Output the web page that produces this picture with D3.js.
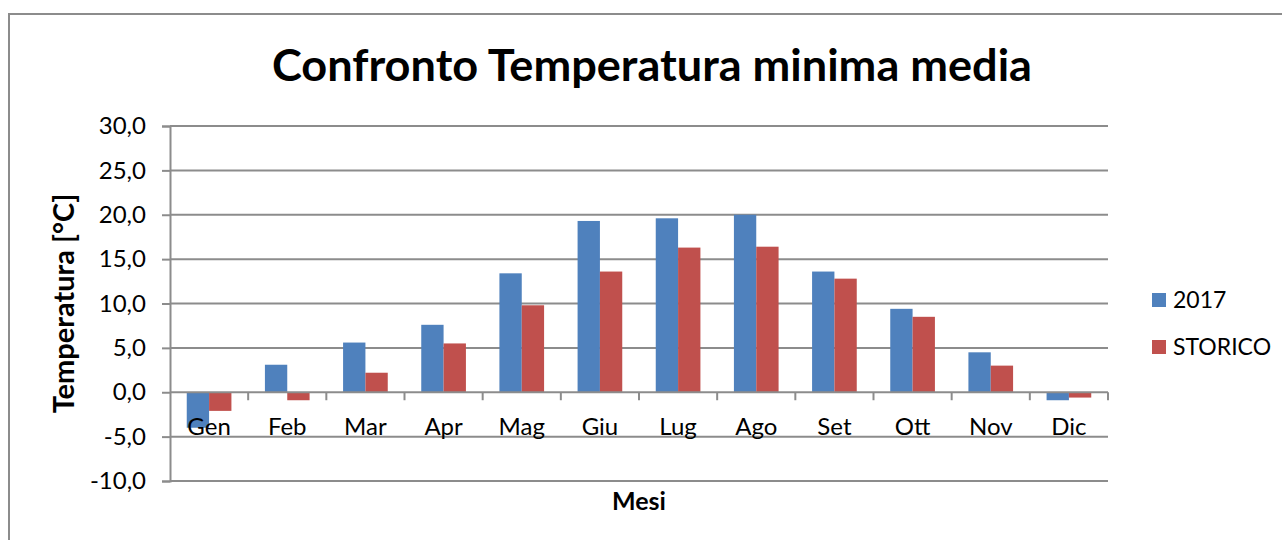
<!DOCTYPE html>
<html>
<head>
<meta charset="utf-8">
<script src="https://cdn.jsdelivr.net/npm/d3@7"></script>
<style>
  html, body { margin: 0; padding: 0; background: #fff; }
  svg { display: block; }
  text { font-family: Lato, "Open Sans", sans-serif; fill: #000; }
</style>
</head>
<body>
<script>
// Monthly mean minimum temperatures (°C)
const months = ["Gen", "Feb", "Mar", "Apr", "Mag", "Giu", "Lug", "Ago", "Set", "Ott", "Nov", "Dic"];
const values2017 = [-4.0, 3.1, 5.6, 7.6, 13.4, 19.3, 19.6, 20.0, 13.6, 9.4, 4.5, -0.9];
const valuesStorico = [-2.1, -0.9, 2.2, 5.5, 9.8, 13.6, 16.3, 16.4, 12.8, 8.5, 3.0, -0.6];
const seriesNames = ["2017", "STORICO"];
const yTicks = [-10, -5, 0, 5, 10, 15, 20, 25, 30];

const W = 1282, H = 540;
const plot = { left: 170, right: 1108, top: 126, bottom: 481 };
const colors = { "2017": "#4F81BD", "STORICO": "#C0504D" };
const gridColor = "#8c8c8c";

const it = d3.formatLocale({ decimal: ",", thousands: ".", grouping: [3], currency: ["", " €"], minus: "-" });
const fmt = it.format(".1f");

const svg = d3.select("body").append("svg").attr("width", W).attr("height", H);

// outer chart frame
svg.append("rect")
  .attr("x", 9).attr("y", 14)
  .attr("width", W + 20).attr("height", H + 20)
  .attr("fill", "#fff").attr("stroke", gridColor).attr("stroke-width", 2);

const y = d3.scaleLinear().domain([-10, 30]).range([plot.bottom, plot.top]);
const x = d3.scaleBand().domain(months).range([plot.left, plot.right])
  .paddingInner(1.5 / 3.5).paddingOuter(0.75 / 3.5);
const xs = d3.scaleBand().domain(seriesNames).range([0, x.bandwidth()]);

// horizontal gridlines
svg.append("g").selectAll("line").data(yTicks.filter(t => t !== 0)).join("line")
  .attr("x1", plot.left).attr("x2", plot.right)
  .attr("y1", d => y(d)).attr("y2", d => y(d))
  .attr("stroke", gridColor).attr("stroke-width", 2);

// bars
const rows = months.map((m, i) => ({ m, vals: [values2017[i], valuesStorico[i]] }));
const groups = svg.append("g").selectAll("g").data(rows).join("g")
  .attr("transform", d => `translate(${x(d.m)},0)`);
groups.selectAll("rect").data(d => d.vals.map((v, j) => ({ s: seriesNames[j], v }))).join("rect")
  .attr("x", d => xs(d.s))
  .attr("width", xs.bandwidth())
  .attr("y", d => y(Math.max(0, d.v)))
  .attr("height", d => Math.abs(y(d.v) - y(0)))
  .attr("fill", d => colors[d.s]);

// y axis
const yAxis = svg.append("g").attr("transform", `translate(${plot.left},0)`)
  .call(d3.axisLeft(y).tickValues(yTicks).tickFormat(fmt).tickSize(8).tickPadding(16));
yAxis.select(".domain").attr("stroke", gridColor).attr("stroke-width", 2);
yAxis.selectAll(".tick line").attr("stroke", gridColor).attr("stroke-width", 2);
yAxis.selectAll(".tick text").attr("font-size", 24).attr("font-family", "Lato").attr("fill", "#000");

// category axis along zero
const boundaries = months.map(m => x(m) - x.step() * x.paddingOuter()).concat([plot.right]);
const xAxis = svg.append("g");
xAxis.append("line")
  .attr("x1", plot.left).attr("x2", plot.right)
  .attr("y1", y(0)).attr("y2", y(0))
  .attr("stroke", gridColor).attr("stroke-width", 2);
xAxis.selectAll("line.tk").data(boundaries.slice(1)).join("line").attr("class", "tk")
  .attr("x1", d => d).attr("x2", d => d)
  .attr("y1", y(0)).attr("y2", y(0) + 8)
  .attr("stroke", gridColor).attr("stroke-width", 2);
xAxis.selectAll("text").data(months).join("text")
  .attr("x", d => x(d) + x.bandwidth() / 2)
  .attr("y", y(0) + 43)
  .attr("text-anchor", "middle")
  .attr("font-size", 24)
  .text(d => d);

// titles
svg.append("text")
  .attr("x", 652).attr("y", 81)
  .attr("text-anchor", "middle").attr("font-size", 43).attr("font-weight", 700)
  .attr("textLength", 760).attr("lengthAdjust", "spacingAndGlyphs")
  .text("Confronto Temperatura minima media");

svg.append("text")
  .attr("transform", `translate(74,${(plot.top + plot.bottom) / 2}) rotate(-90)`)
  .attr("text-anchor", "middle").attr("font-size", 29).attr("font-weight", 700)
  .text("Temperatura [°C]");

svg.append("text")
  .attr("x", (plot.left + plot.right) / 2).attr("y", 510)
  .attr("text-anchor", "middle").attr("font-size", 25).attr("font-weight", 700)
  .text("Mesi");

// legend
const legend = svg.append("g").attr("transform", "translate(1152,293)");
const li = legend.selectAll("g").data(seriesNames).join("g")
  .attr("transform", (d, i) => `translate(0,${i * 47})`);
li.append("rect").attr("width", 14).attr("height", 14).attr("fill", d => colors[d]);
li.append("text").attr("x", 21).attr("y", 7).attr("dy", "0.36em")
  .attr("font-size", 23).text(d => d);
</script>
</body>
</html>
